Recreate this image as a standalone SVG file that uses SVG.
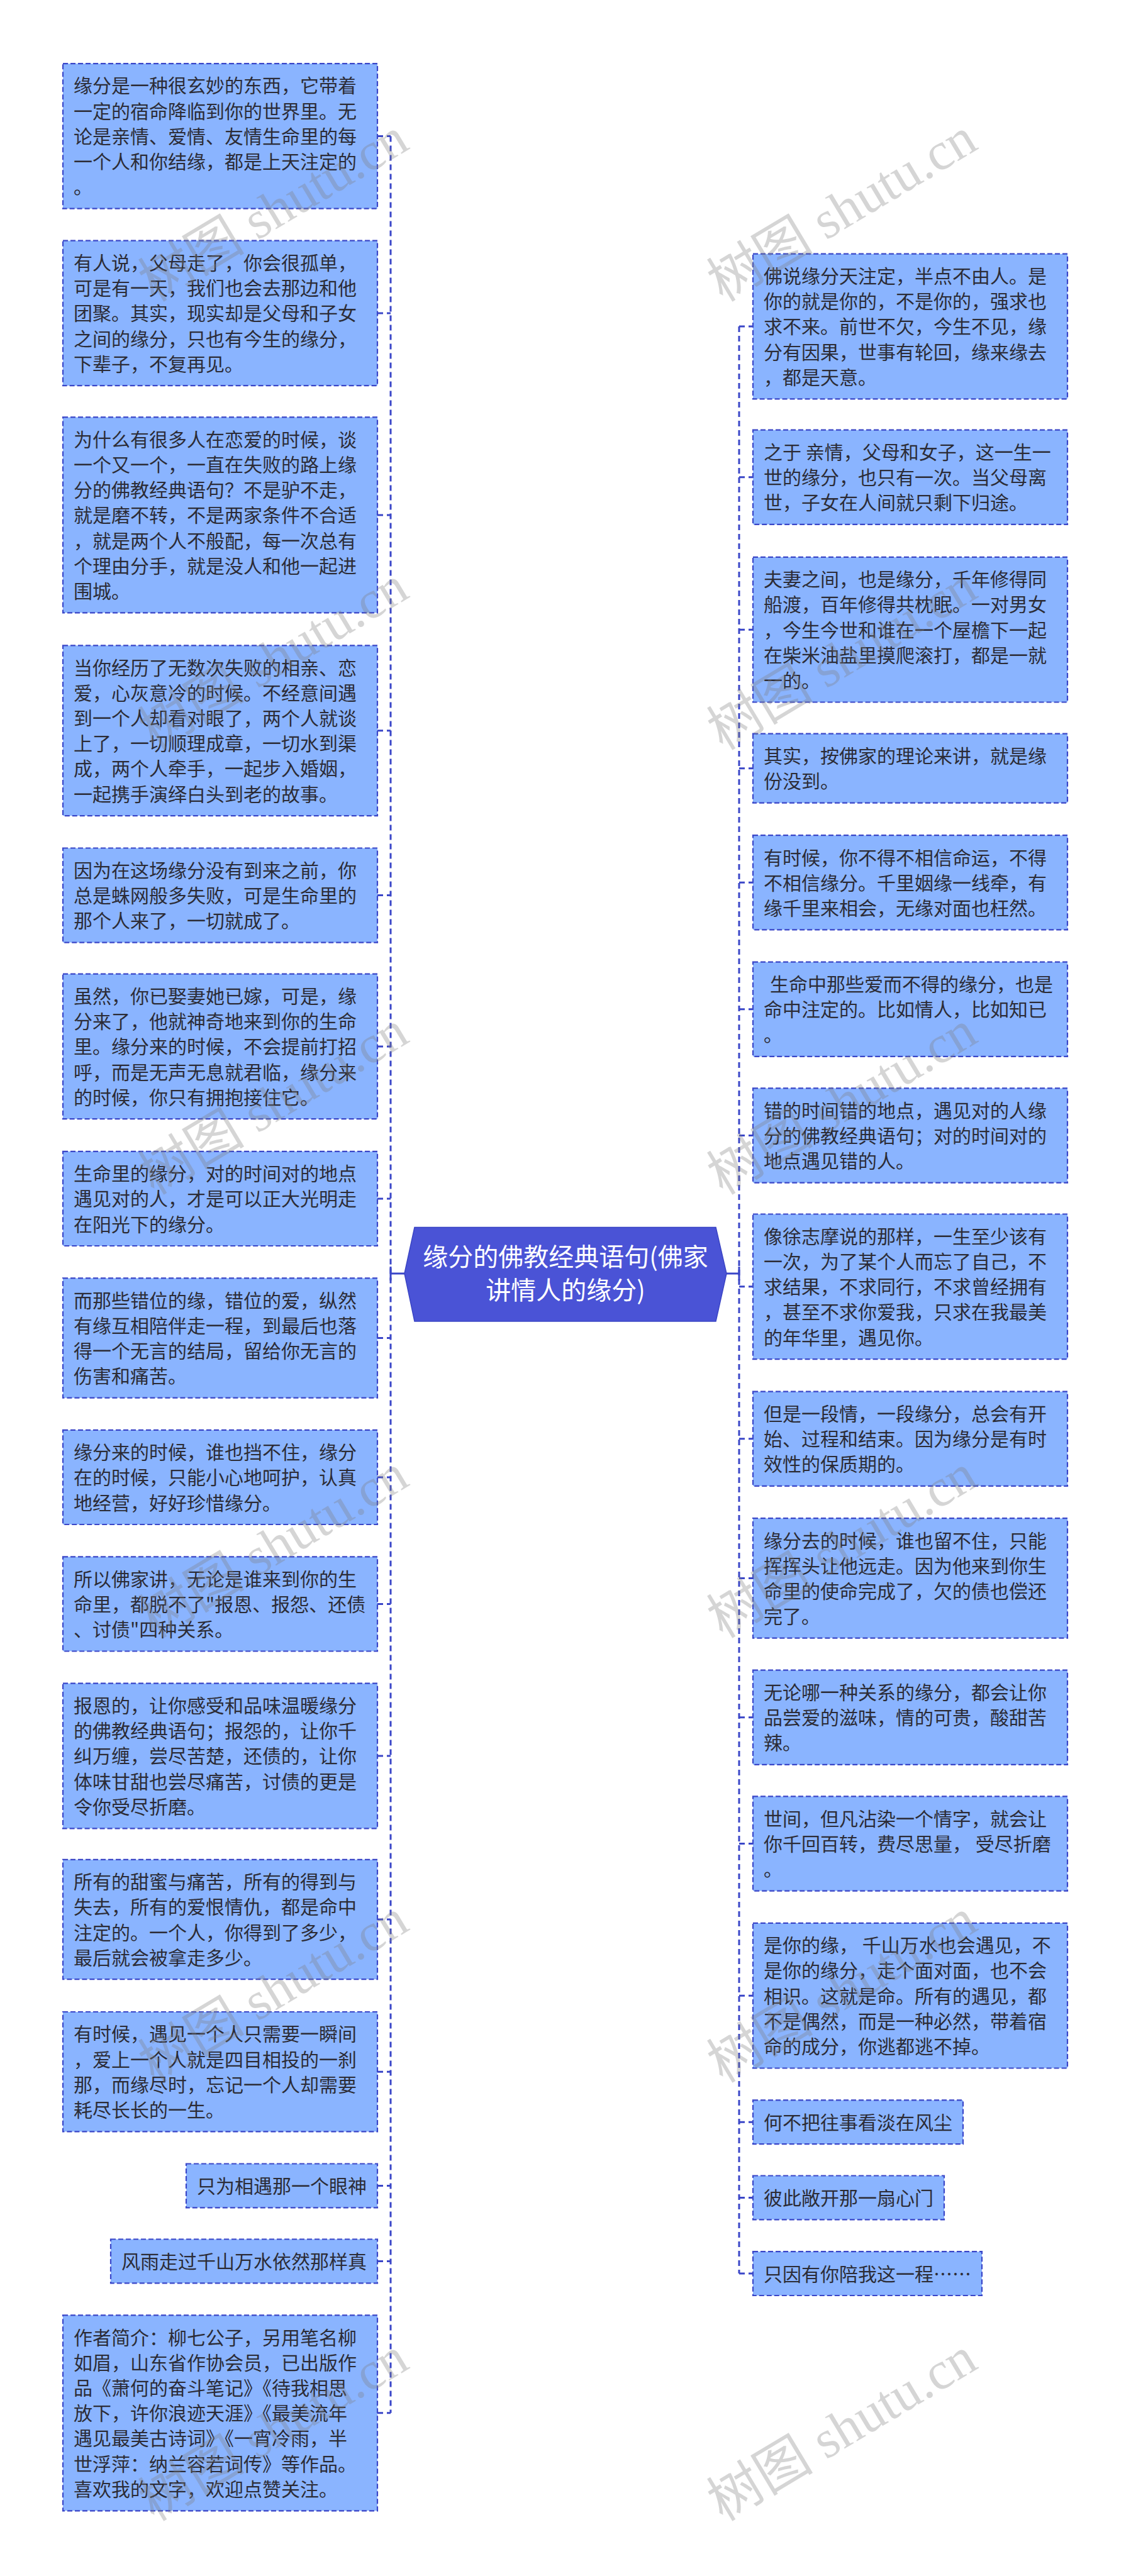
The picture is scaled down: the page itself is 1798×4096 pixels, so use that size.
<svg xmlns="http://www.w3.org/2000/svg" width="1798" height="4096" viewBox="0 0 1798 4096">
<style>
.box{fill:#8ab4ff;stroke:#3a46c8;stroke-width:2.2;stroke-dasharray:8 4}
.t{font-family:"Noto Sans CJK SC","Noto Sans",sans-serif;font-size:30px;fill:#2c2c36}
.conn{fill:none;stroke:#3a46c8;stroke-width:3;stroke-dasharray:9 6}
.solid{fill:none;stroke:#3a46c8;stroke-width:3}
.ct{font-family:"Noto Sans CJK SC","Noto Sans",sans-serif;font-size:40px;fill:#ffffff;text-anchor:middle}
.wm{font-family:"Liberation Serif","Noto Sans CJK SC",serif;font-size:85px;fill:#7f7f7f;fill-opacity:0.33}
</style>
<rect width="1798" height="4096" fill="#ffffff"/>
<g id="connectors">
<path class="conn" d="M621,216.4V3836.8"/>
<path class="conn" d="M600,216.4H621M600,497.9H621M600,818.9H621M600,1161.7H621M600,1423.6H621M600,1663.9H621M600,1905.9H621M600,2127.5H621M600,2348.9H621M600,2550.4H621M600,2792H621M600,3052H621M600,3294.2H621M600,3475.4H621M600,3595.4H621M600,3836.8H621"/>
<path class="conn" d="M1175,519V3615.1"/>
<path class="conn" d="M1175,519H1197M1175,758.8H1197M1175,1001.2H1197M1175,1221.7H1197M1175,1403.3H1197M1175,1604.8H1197M1175,1805.5H1197M1175,2045.8H1197M1175,2287.8H1197M1175,2509.4H1197M1175,2730.8H1197M1175,2931.5H1197M1175,3173.2H1197M1175,3374.3H1197M1175,3494.4H1197M1175,3615.1H1197"/>
<path class="solid" d="M621,2025H643M1155,2025H1175M621,2014V2036M1175,2014V2036"/>
</g>
<g id="center">
<polygon points="643,2025 659,1951.6 1138,1951.6 1155,2025 1138,2101 659,2101" fill="#4a53d6" stroke="#3a44c4" stroke-width="1.5"/>
<text class="ct" x="899" y="2013">缘分的佛教经典语句(佛家</text>
<text class="ct" x="899" y="2066">讲情人的缘分)</text>
</g>
<g id="L1"><rect class="box" x="100" y="101.1" width="500" height="230.6"/>
<text class="t" x="117" y="147.4"><tspan x="117">缘分是一种很玄妙的东西，它带着</tspan><tspan x="117" dy="40.2">一定的宿命降临到你的世界里。无</tspan><tspan x="117" dy="40.2">论是亲情、爱情、友情生命里的每</tspan><tspan x="117" dy="40.2">一个人和你结缘，都是上天注定的</tspan><tspan x="117" dy="40.2">。</tspan></text></g>
<g id="L2"><rect class="box" x="100" y="382.6" width="500" height="230.6"/>
<text class="t" x="117" y="428.9"><tspan x="117">有人说，父母走了，你会很孤单，</tspan><tspan x="117" dy="40.2">可是有一天，我们也会去那边和他</tspan><tspan x="117" dy="40.2">团聚。其实，现实却是父母和子女</tspan><tspan x="117" dy="40.2">之间的缘分，只也有今生的缘分，</tspan><tspan x="117" dy="40.2">下辈子，不复再见。</tspan></text></g>
<g id="L3"><rect class="box" x="100" y="663.4" width="500" height="311"/>
<text class="t" x="117" y="709.7"><tspan x="117">为什么有很多人在恋爱的时候，谈</tspan><tspan x="117" dy="40.2">一个又一个，一直在失败的路上缘</tspan><tspan x="117" dy="40.2">分的佛教经典语句？不是驴不走，</tspan><tspan x="117" dy="40.2">就是磨不转，不是两家条件不合适</tspan><tspan x="117" dy="40.2">，就是两个人不般配，每一次总有</tspan><tspan x="117" dy="40.2">个理由分手，就是没人和他一起进</tspan><tspan x="117" dy="40.2">围城。</tspan></text></g>
<g id="L4"><rect class="box" x="100" y="1026.3" width="500" height="270.8"/>
<text class="t" x="117" y="1072.6"><tspan x="117">当你经历了无数次失败的相亲、恋</tspan><tspan x="117" dy="40.2">爱，心灰意冷的时候。不经意间遇</tspan><tspan x="117" dy="40.2">到一个人却看对眼了，两个人就谈</tspan><tspan x="117" dy="40.2">上了，一切顺理成章，一切水到渠</tspan><tspan x="117" dy="40.2">成，两个人牵手，一起步入婚姻，</tspan><tspan x="117" dy="40.2">一起携手演绎白头到老的故事。</tspan></text></g>
<g id="L5"><rect class="box" x="100" y="1348.5" width="500" height="150.2"/>
<text class="t" x="117" y="1394.8"><tspan x="117">因为在这场缘分没有到来之前，你</tspan><tspan x="117" dy="40.2">总是蛛网般多失败，可是生命里的</tspan><tspan x="117" dy="40.2">那个人来了，一切就成了。</tspan></text></g>
<g id="L6"><rect class="box" x="100" y="1548.6" width="500" height="230.6"/>
<text class="t" x="117" y="1594.9"><tspan x="117">虽然，你已娶妻她已嫁，可是，缘</tspan><tspan x="117" dy="40.2">分来了，他就神奇地来到你的生命</tspan><tspan x="117" dy="40.2">里。缘分来的时候，不会提前打招</tspan><tspan x="117" dy="40.2">呼，而是无声无息就君临，缘分来</tspan><tspan x="117" dy="40.2">的时候，你只有拥抱接住它。</tspan></text></g>
<g id="L7"><rect class="box" x="100" y="1830.8" width="500" height="150.2"/>
<text class="t" x="117" y="1877.1"><tspan x="117">生命里的缘分，对的时间对的地点</tspan><tspan x="117" dy="40.2">遇见对的人，才是可以正大光明走</tspan><tspan x="117" dy="40.2">在阳光下的缘分。</tspan></text></g>
<g id="L8"><rect class="box" x="100" y="2032.3" width="500" height="190.4"/>
<text class="t" x="117" y="2078.6"><tspan x="117">而那些错位的缘，错位的爱，纵然</tspan><tspan x="117" dy="40.2">有缘互相陪伴走一程，到最后也落</tspan><tspan x="117" dy="40.2">得一个无言的结局，留给你无言的</tspan><tspan x="117" dy="40.2">伤害和痛苦。</tspan></text></g>
<g id="L9"><rect class="box" x="100" y="2273.8" width="500" height="150.2"/>
<text class="t" x="117" y="2320.1"><tspan x="117">缘分来的时候，谁也挡不住，缘分</tspan><tspan x="117" dy="40.2">在的时候，只能小心地呵护，认真</tspan><tspan x="117" dy="40.2">地经营，好好珍惜缘分。</tspan></text></g>
<g id="L10"><rect class="box" x="100" y="2475.3" width="500" height="150.2"/>
<text class="t" x="117" y="2521.6"><tspan x="117">所以佛家讲，无论是谁来到你的生</tspan><tspan x="117" dy="40.2">命里，都脱不了"报恩、报怨、还债</tspan><tspan x="117" dy="40.2">、讨债"四种关系。</tspan></text></g>
<g id="L11"><rect class="box" x="100" y="2676.7" width="500" height="230.6"/>
<text class="t" x="117" y="2723"><tspan x="117">报恩的，让你感受和品味温暖缘分</tspan><tspan x="117" dy="40.2">的佛教经典语句；报怨的，让你千</tspan><tspan x="117" dy="40.2">纠万缠，尝尽苦楚，还债的，让你</tspan><tspan x="117" dy="40.2">体味甘甜也尝尽痛苦，讨债的更是</tspan><tspan x="117" dy="40.2">令你受尽折磨。</tspan></text></g>
<g id="L12"><rect class="box" x="100" y="2956.8" width="500" height="190.4"/>
<text class="t" x="117" y="3003.1"><tspan x="117">所有的甜蜜与痛苦，所有的得到与</tspan><tspan x="117" dy="40.2">失去，所有的爱恨情仇，都是命中</tspan><tspan x="117" dy="40.2">注定的。一个人，你得到了多少，</tspan><tspan x="117" dy="40.2">最后就会被拿走多少。</tspan></text></g>
<g id="L13"><rect class="box" x="100" y="3199" width="500" height="190.4"/>
<text class="t" x="117" y="3245.3"><tspan x="117">有时候，遇见一个人只需要一瞬间</tspan><tspan x="117" dy="40.2">，爱上一个人就是四目相投的一刹</tspan><tspan x="117" dy="40.2">那，而缘尽时，忘记一个人却需要</tspan><tspan x="117" dy="40.2">耗尽长长的一生。</tspan></text></g>
<g id="L14"><rect class="box" x="296" y="3440.5" width="304" height="69.8"/>
<text class="t" x="313" y="3486.8">只为相遇那一个眼神</text></g>
<g id="L15"><rect class="box" x="176" y="3560.5" width="424" height="69.8"/>
<text class="t" x="193" y="3606.8">风雨走过千山万水依然那样真</text></g>
<g id="L16"><rect class="box" x="100" y="3681.3" width="500" height="311"/>
<text class="t" x="117" y="3727.6"><tspan x="117">作者简介：柳七公子，另用笔名柳</tspan><tspan x="117" dy="40.2">如眉，山东省作协会员，已出版作</tspan><tspan x="117" dy="40.2">品《萧何的奋斗笔记》《待我相思</tspan><tspan x="117" dy="40.2">放下，许你浪迹天涯》《最美流年</tspan><tspan x="117" dy="40.2">遇见最美古诗词》《一宵冷雨，半</tspan><tspan x="117" dy="40.2">世浮萍：纳兰容若词传》等作品。</tspan><tspan x="117" dy="40.2">喜欢我的文字，欢迎点赞关注。</tspan></text></g>
<g id="R1"><rect class="box" x="1197" y="403.7" width="500" height="230.6"/>
<text class="t" x="1214" y="450"><tspan x="1214">佛说缘分天注定，半点不由人。是</tspan><tspan x="1214" dy="40.2">你的就是你的，不是你的，强求也</tspan><tspan x="1214" dy="40.2">求不来。前世不欠，今生不见，缘</tspan><tspan x="1214" dy="40.2">分有因果，世事有轮回，缘来缘去</tspan><tspan x="1214" dy="40.2">，都是天意。</tspan></text></g>
<g id="R2"><rect class="box" x="1197" y="683.7" width="500" height="150.2"/>
<text class="t" x="1214" y="730"><tspan x="1214">之于 亲情，父母和女子，这一生一</tspan><tspan x="1214" dy="40.2">世的缘分，也只有一次。当父母离</tspan><tspan x="1214" dy="40.2">世，子女在人间就只剩下归途。</tspan></text></g>
<g id="R3"><rect class="box" x="1197" y="885.9" width="500" height="230.6"/>
<text class="t" x="1214" y="932.2"><tspan x="1214">夫妻之间，也是缘分，千年修得同</tspan><tspan x="1214" dy="40.2">船渡，百年修得共枕眠。一对男女</tspan><tspan x="1214" dy="40.2">，今生今世和谁在一个屋檐下一起</tspan><tspan x="1214" dy="40.2">在柴米油盐里摸爬滚打，都是一就</tspan><tspan x="1214" dy="40.2">一的。</tspan></text></g>
<g id="R4"><rect class="box" x="1197" y="1166.7" width="500" height="110"/>
<text class="t" x="1214" y="1213"><tspan x="1214">其实，按佛家的理论来讲，就是缘</tspan><tspan x="1214" dy="40.2">份没到。</tspan></text></g>
<g id="R5"><rect class="box" x="1197" y="1328.2" width="500" height="150.2"/>
<text class="t" x="1214" y="1374.5"><tspan x="1214">有时候，你不得不相信命运，不得</tspan><tspan x="1214" dy="40.2">不相信缘分。千里姻缘一线牵，有</tspan><tspan x="1214" dy="40.2">缘千里来相会，无缘对面也枉然。</tspan></text></g>
<g id="R6"><rect class="box" x="1197" y="1529.7" width="500" height="150.2"/>
<text class="t" x="1214" y="1576"><tspan x="1224">生命中那些爱而不得的缘分，也是</tspan><tspan x="1214" dy="40.2">命中注定的。比如情人，比如知已</tspan><tspan x="1214" dy="40.2">。</tspan></text></g>
<g id="R7"><rect class="box" x="1197" y="1730.4" width="500" height="150.2"/>
<text class="t" x="1214" y="1776.7"><tspan x="1214">错的时间错的地点，遇见对的人缘</tspan><tspan x="1214" dy="40.2">分的佛教经典语句；对的时间对的</tspan><tspan x="1214" dy="40.2">地点遇见错的人。</tspan></text></g>
<g id="R8"><rect class="box" x="1197" y="1930.5" width="500" height="230.6"/>
<text class="t" x="1214" y="1976.8"><tspan x="1214">像徐志摩说的那样，一生至少该有</tspan><tspan x="1214" dy="40.2">一次，为了某个人而忘了自己，不</tspan><tspan x="1214" dy="40.2">求结果，不求同行，不求曾经拥有</tspan><tspan x="1214" dy="40.2">，甚至不求你爱我，只求在我最美</tspan><tspan x="1214" dy="40.2">的年华里，遇见你。</tspan></text></g>
<g id="R9"><rect class="box" x="1197" y="2212.7" width="500" height="150.2"/>
<text class="t" x="1214" y="2259"><tspan x="1214">但是一段情，一段缘分，总会有开</tspan><tspan x="1214" dy="40.2">始、过程和结束。因为缘分是有时</tspan><tspan x="1214" dy="40.2">效性的保质期的。</tspan></text></g>
<g id="R10"><rect class="box" x="1197" y="2414.2" width="500" height="190.4"/>
<text class="t" x="1214" y="2460.5"><tspan x="1214">缘分去的时候，谁也留不住，只能</tspan><tspan x="1214" dy="40.2">挥挥头让他远走。因为他来到你生</tspan><tspan x="1214" dy="40.2">命里的使命完成了，欠的债也偿还</tspan><tspan x="1214" dy="40.2">完了。</tspan></text></g>
<g id="R11"><rect class="box" x="1197" y="2655.7" width="500" height="150.2"/>
<text class="t" x="1214" y="2702"><tspan x="1214">无论哪一种关系的缘分，都会让你</tspan><tspan x="1214" dy="40.2">品尝爱的滋味，情的可贵，酸甜苦</tspan><tspan x="1214" dy="40.2">辣。</tspan></text></g>
<g id="R12"><rect class="box" x="1197" y="2856.4" width="500" height="150.2"/>
<text class="t" x="1214" y="2902.7"><tspan x="1214">世间，但凡沾染一个情字，就会让</tspan><tspan x="1214" dy="40.2">你千回百转，费尽思量， 受尽折磨</tspan><tspan x="1214" dy="40.2">。</tspan></text></g>
<g id="R13"><rect class="box" x="1197" y="3057.9" width="500" height="230.6"/>
<text class="t" x="1214" y="3104.2"><tspan x="1214">是你的缘， 千山万水也会遇见，不</tspan><tspan x="1214" dy="40.2">是你的缘分，走个面对面，也不会</tspan><tspan x="1214" dy="40.2">相识。这就是命。所有的遇见，都</tspan><tspan x="1214" dy="40.2">不是偶然，而是一种必然，带着宿</tspan><tspan x="1214" dy="40.2">命的成分，你逃都逃不掉。</tspan></text></g>
<g id="R14"><rect class="box" x="1197" y="3339.4" width="334" height="69.8"/>
<text class="t" x="1214" y="3385.7">何不把往事看淡在风尘</text></g>
<g id="R15"><rect class="box" x="1197" y="3459.5" width="304" height="69.8"/>
<text class="t" x="1214" y="3505.8">彼此敞开那一扇心门</text></g>
<g id="R16"><rect class="box" x="1197" y="3580.2" width="364" height="69.8"/>
<text class="t" x="1214" y="3626.5">只因有你陪我这一程……</text></g>
<g id="watermark">
<text class="wm" transform="translate(245,481) rotate(-31)">树图 shutu.cn</text>
<text class="wm" transform="translate(245,1194) rotate(-31)">树图 shutu.cn</text>
<text class="wm" transform="translate(245,1901) rotate(-31)">树图 shutu.cn</text>
<text class="wm" transform="translate(245,2606) rotate(-31)">树图 shutu.cn</text>
<text class="wm" transform="translate(245,3313) rotate(-31)">树图 shutu.cn</text>
<text class="wm" transform="translate(245,4010) rotate(-31)">树图 shutu.cn</text>
<text class="wm" transform="translate(1149,481) rotate(-31)">树图 shutu.cn</text>
<text class="wm" transform="translate(1149,1194) rotate(-31)">树图 shutu.cn</text>
<text class="wm" transform="translate(1149,1901) rotate(-31)">树图 shutu.cn</text>
<text class="wm" transform="translate(1149,2606) rotate(-31)">树图 shutu.cn</text>
<text class="wm" transform="translate(1149,3313) rotate(-31)">树图 shutu.cn</text>
<text class="wm" transform="translate(1149,4010) rotate(-31)">树图 shutu.cn</text>
</g>
</svg>
